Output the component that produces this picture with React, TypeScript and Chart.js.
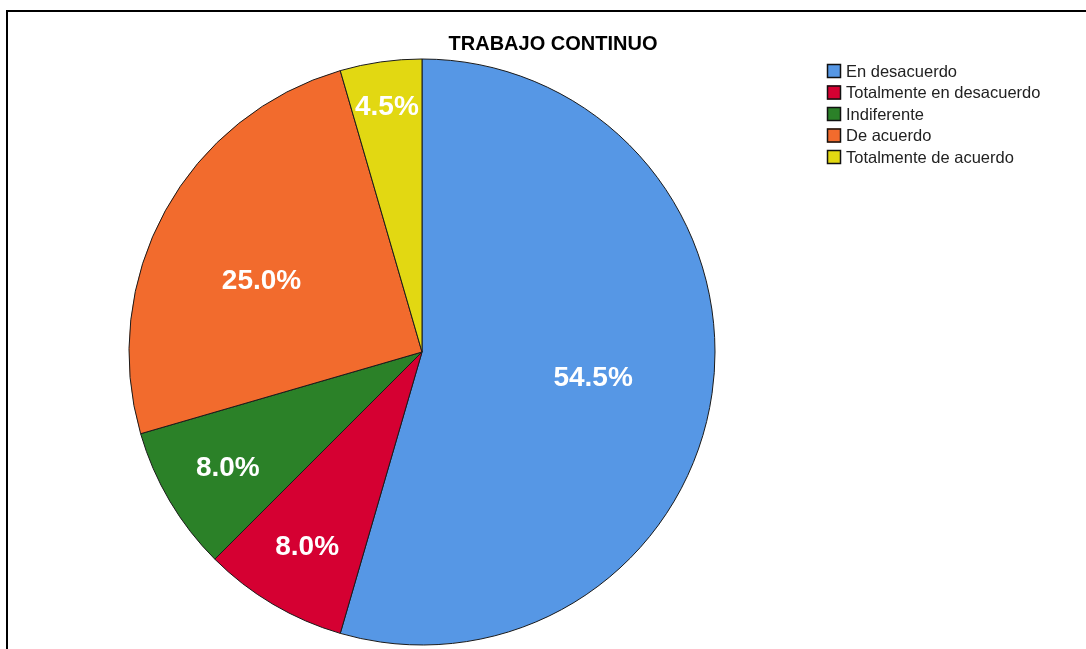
import React, { useEffect, useRef } from "react";
import { Chart, registerables } from "chart.js";

Chart.register(...registerables);

const title = "TRABAJO CONTINUO";
const categories = [
  "En desacuerdo",
  "Totalmente en desacuerdo",
  "Indiferente",
  "De acuerdo",
  "Totalmente de acuerdo",
];
const percentages = [54.5, 8.0, 8.0, 25.0, 4.5];
const sliceColors = ["#5697e5", "#d50032", "#2b8128", "#f26b2d", "#e2d812"];
const labelRadiusFraction = [0.59, 0.77, 0.77, 0.6, 0.85];
const labelAngleOffsetDeg = [0, 0, 0, -4.7, 0];

const FONT = "Arial, 'Liberation Sans', Helvetica, sans-serif";

const overlayPlugin = {
  id: "overlay",
  afterDatasetsDraw(chart: any) {
    const ctx = chart.ctx;
    const meta = chart.getDatasetMeta(0);
    ctx.save();
    // slice labels
    ctx.fillStyle = "#ffffff";
    ctx.font = `bold 28px ${FONT}`;
    ctx.textAlign = "center";
    ctx.textBaseline = "middle";
    meta.data.forEach((arc: any, i: number) => {
      const p = arc.getProps(["x", "y", "startAngle", "endAngle", "outerRadius"], true);
      const mid = (p.startAngle + p.endAngle) / 2 + (labelAngleOffsetDeg[i] * Math.PI) / 180;
      const r = p.outerRadius * labelRadiusFraction[i];
      const x = p.x + Math.cos(mid) * r;
      const y = p.y + Math.sin(mid) * r;
      ctx.fillText(percentages[i].toFixed(1) + "%", x, y + 1.5);
    });
    // title
    ctx.fillStyle = "#000000";
    ctx.font = `bold 20px ${FONT}`;
    ctx.fillText(title, 553, 44);
    // legend
    ctx.textAlign = "left";
    ctx.font = `16.5px ${FONT}`;
    categories.forEach((c, i) => {
      const cy = 71 + i * 21.5;
      ctx.fillStyle = sliceColors[i];
      ctx.fillRect(827, cy - 7, 14, 14);
      ctx.strokeStyle = "#111111";
      ctx.lineWidth = 1.5;
      ctx.strokeRect(827.5, cy - 6.5, 13, 13);
      ctx.fillStyle = "#222222";
      ctx.fillText(c, 846, cy + 1);
    });
    ctx.restore();
  },
};

export default function App() {
  const canvasRef = useRef<HTMLCanvasElement | null>(null);

  useEffect(() => {
    if (!canvasRef.current) return;
    const chart = new Chart(canvasRef.current, {
      type: "pie",
      data: {
        labels: categories,
        datasets: [
          {
            data: percentages,
            backgroundColor: sliceColors,
            borderColor: "#1a1a1a",
            borderWidth: 1,
          },
        ],
      },
      options: {
        animation: false,
        responsive: false,
        maintainAspectRatio: false,
        layout: {
          padding: { left: 128.5, top: 58.5, right: 370.5, bottom: 3.5 },
        },
        plugins: {
          legend: { display: false },
          title: { display: false },
          tooltip: { enabled: false },
        },
      },
      plugins: [overlayPlugin],
    });
    return () => chart.destroy();
  }, []);

  return (
    <div
      style={{
        position: "fixed",
        left: 0,
        top: 0,
        width: 1086,
        height: 649,
        background: "#ffffff",
        overflow: "hidden",
      }}
    >
      <canvas
        ref={canvasRef}
        width={1086}
        height={649}
        style={{ position: "absolute", left: 0, top: 0, width: 1086, height: 649 }}
      />
      <div
        style={{
          position: "absolute",
          left: 6,
          top: 10,
          width: 1200,
          height: 800,
          borderLeft: "2px solid #000",
          borderTop: "2px solid #000",
          pointerEvents: "none",
        }}
      />
    </div>
  );
}
